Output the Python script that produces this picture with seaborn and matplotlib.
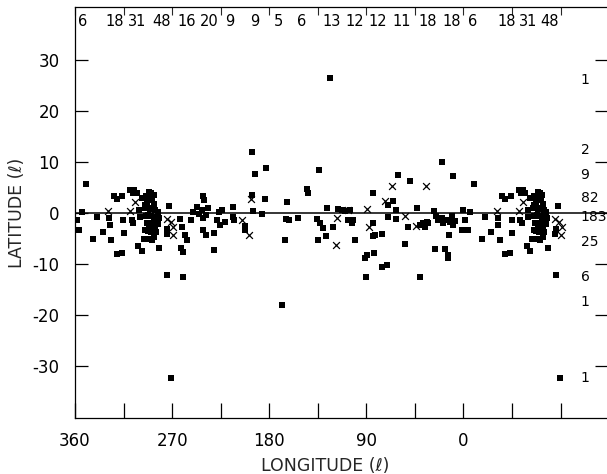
import numpy as np
import pandas as pd
import matplotlib
matplotlib.use("Agg")
import matplotlib.pyplot as plt
import seaborn as sns
from matplotlib.ticker import FixedLocator, FuncFormatter

sns.set_style("white")
plt.rcParams['font.family'] = ['DejaVu Sans']
plt.rcParams['axes.unicode_minus'] = False

# ---------------- data (galactic longitude / latitude, degrees) ----------------
sq_lon = [350.1, 353.8, 358.4, 356.0, 343.0, 339.9, 334.3, 328.2, 327.6, 326.6,
          323.9, 321.4, 316.2, 321.4, 316.7, 315.2, 314.6, 309.0, 305.3, 302.8,
          306.5, 307.5, 306.0, 300.4, 299.8, 301.3, 298.2, 296.1, 295.1, 291.1,
          298.2, 295.1, 293.0,
          296.5, 294.5, 292.5, 290.5, 288.5, 286.5, 295.5, 293.0, 290.5, 288.0,
          285.5, 283.5, 294.5, 292.0, 289.5, 287.0, 284.5, 282.5, 293.5, 291.0,
          288.5, 286.0, 283.5, 292.5, 290.0, 287.5, 285.0, 291.5, 289.0, 286.5,
          289.5, 287.0,
          281.9, 272.6, 274.5, 275.0, 262.7, 261.1, 258.1, 255.9, 262.0, 260.2,
          252.8, 250.9, 247.2, 242.6, 241.1, 240.4, 245.1, 238.6, 241.4, 236.7,
          241.6, 238.6, 231.2, 231.2, 226.3, 224.0, 228.7, 221.0, 225.6, 213.3,
          213.8, 212.6, 202.4, 202.4, 196.0, 192.9, 183.0, 196.2, 195.3, 186.7,
          183.6, 163.8, 164.4, 161.4, 165.4, 153.0, 145.3, 143.8, 133.6, 126.7,
          135.4, 133.2, 130.4, 135.1, 127.6, 120.6, 116.0, 274.5, 260.2, 123.6,
          271.0, 168.0,
          112.8, 109.8, 105.1, 106.7, 103.6, 102.1, 100.5, 84.1, 84.1, 83.5,
          82.0, 91.2, 89.7, 82.9, 90.6, 75.8, 71.1, 75.8, 69.6, 65.0,
          60.4, 69.6, 62.5, 62.5, 54.2, 51.1, 49.5, 43.3, 40.3, 37.2,
          34.0, 32.6, 35.6, 40.3, 27.0, 25.4, 23.3, 20.1, 18.7, 15.5,
          12.5, 9.4, 7.8, 10.9, 0.5, 1.0, 13.1, 26.3, 17.1, 14.0,
          14.0, 20.1, 10.0]
sq_lat = [5.6, 0.1, -1.4, -3.3, -5.0, -0.8, -3.8, -1.0, -2.4, -5.3,
          3.3, 2.7, 3.3, -8.0, -7.8, -1.4, -4.0, 4.5, 4.6, 3.9,
          4.0, -1.4, -2.0, 0.6, -0.7, -6.5, -7.4, -5.1, -3.3, 4.2,
          2.9, 1.6, 2.2,
          3.0, 3.3, 2.8, 3.1, 2.5, 1.8, 1.0, 1.2, 0.8, 1.0,
          0.5, 0.2, -0.5, -0.3, -0.6, -0.8, -1.2, -0.9, -2.0, -2.3,
          -2.0, -2.5, -2.2, -3.5, -3.8, -3.3, -3.8, -5.0, -5.3, -4.8,
          4.0, 3.5,
          -6.9, 1.4, -3.2, -4.1, -1.2, -2.8, -4.3, -5.2, -6.9, -7.6,
          -1.4, 0.1, 1.2, 0.5, 3.3, 2.5, -0.2, -0.4, -1.0, 1.0,
          -3.3, -4.3, -3.9, -7.3, 0.1, 0.5, -1.4, -1.7, -2.4, 1.2,
          -0.8, -1.4, -2.5, -3.3, 11.9, 7.6, 8.8, 3.5, 0.4, -0.1,
          2.7, 2.1, -1.2, -1.4, -5.2, -0.9, 4.7, 3.9, 8.4, 1.0,
          -1.2, -2.0, -2.9, -5.2, -4.6, -2.7, 0.7, -12.2, -12.6, 26.5,
          -32.4, -18.0,
          0.6, 0.3, 0.6, -1.4, -1.9, -1.4, -5.2, -2.0, 4.0, -4.6,
          -4.3, -8.9, -8.2, -7.9, -12.5, -10.5, -10.2, -4.1, 1.6, 2.4,
          7.4, -0.7, 0.6, -1.2, -6.1, -2.8, 6.3, 0.9, -2.4, -2.0,
          -1.7, -1.9, -2.8, -12.6, 0.3, -0.6, -1.4, -1.0, -2.0, -1.4,
          -1.7, -2.4, -1.5, -0.6, 0.5, -3.3, -4.3, -7.1, -7.1, -8.2,
          -8.9, 10.1, 7.3]

x_lon = [329.1, 304.4, 309.0, 275.0, 271.5, 269.5, 269.0, 205.5, 198.5, 197.2,
         117.5, 118.1, 106.7, 89.7, 87.2, 72.7, 66.5, 54.2, 34.7, 44.0]
x_lat = [0.3, 2.2, 0.3, -1.2, -1.7, -4.3, -2.7, -1.4, -4.3, 2.7,
         -0.9, -6.3, 0.6, 0.7, -2.8, 2.4, 5.3, -0.6, 5.3, -2.5]

top_counts = [6, 18, 31, 48, 16, 20, 9, 9, 5, 6, 13, 12, 12, 11, 18, 18, 6, 18, 31, 48]
top_lon = [352.6, 323.0, 302.6, 279.5, 256.3, 236.0, 216.5, 193.4, 171.2, 149.9,
           122.1, 100.8, 79.5, 57.3, 33.2, 11.0, -8.6, -40.1, -59.5, -79.9]

right_counts = [1, 2, 9, 82, 183, 25, 6, 1, 1]
right_lat = [26.1, 12.4, 7.5, 2.9, -0.8, -5.7, -12.5, -17.5, -32.4]

x_tick_vals = [360, 315, 270, 225, 180, 135, 90, 45, 0, -45, -90]
x_tick_labeled = [360, 270, 180, 90, 0]
y_tick_vals = [-30, -20, -10, 0, 10, 20, 30]

LON_MAX, LON_MIN = 360, -133
LAT_MIN, LAT_MAX = -40.2, 40.4
WRAP_FROM = 268          # longitudes >= this are repeated at lon - 360


def with_wrap(lon, lat):
    df = pd.DataFrame({"lon": lon, "lat": lat})
    rep = df[df["lon"] >= WRAP_FROM].copy()
    rep["lon"] = rep["lon"] - 360
    return pd.concat([df, rep], ignore_index=True)


df_sq = with_wrap(sq_lon, sq_lat)
df_x = with_wrap(x_lon, x_lat)

fig = plt.figure(figsize=(6.07, 4.74), dpi=100)
ax = fig.add_axes([75 / 607, 56 / 474, 532 / 607, 411 / 474])

sns.scatterplot(data=df_sq, x="lon", y="lat", ax=ax, marker="s", color="black",
                s=14, linewidth=0, legend=False)
sns.scatterplot(data=df_x, x="lon", y="lat", ax=ax, marker="x", color="black",
                s=24, linewidth=0.9, legend=False)

ax.axhline(0, color="black", lw=1.1, zorder=1)

ax.set_xlim(LON_MAX, LON_MIN)
ax.set_ylim(LAT_MIN, LAT_MAX)

for side in ["left", "bottom", "top"]:
    ax.spines[side].set_linewidth(0.9)
    ax.spines[side].set_color("black")
ax.spines["right"].set_visible(False)

ax.xaxis.set_major_locator(FixedLocator(x_tick_vals))
ax.xaxis.set_major_formatter(FuncFormatter(
    lambda v, p: f"{int(round(v))}" if int(round(v)) in x_tick_labeled else ""))
ax.yaxis.set_major_locator(FixedLocator(y_tick_vals))
ax.yaxis.set_major_formatter(FuncFormatter(lambda v, p: f"{int(round(v))}"))

ax.tick_params(axis="x", direction="in", length=11, width=0.9, pad=10,
               labelsize=12, colors="black", bottom=True, top=False)
ax.tick_params(axis="y", direction="in", length=9, width=0.9, pad=11,
               labelsize=12, colors="black", left=True, right=True)

top = ax.secondary_xaxis("top")
top.xaxis.set_major_locator(FixedLocator(x_tick_vals))
top.tick_params(direction="in", length=6, width=0.8, labeltop=False)
top.spines["top"].set_visible(False)

for c, lo in zip(top_counts, top_lon):
    ax.text(lo, 37.6, str(c), ha="center", va="center", fontsize=10.5, color="black")

for c, la in zip(right_counts, right_lat):
    ax.text(-108.5, la, str(c), ha="left", va="center", fontsize=10,
            color="black", clip_on=False)

ax.set_xlabel("LONGITUDE (ℓ)", fontsize=12.5)
ax.set_ylabel("LATITUDE (ℓ)", fontsize=12.5)
ax.xaxis.set_label_coords(0.47, -0.095)
ax.yaxis.set_label_coords(-0.092, 0.5)

fig.savefig("out.png", dpi=100)
